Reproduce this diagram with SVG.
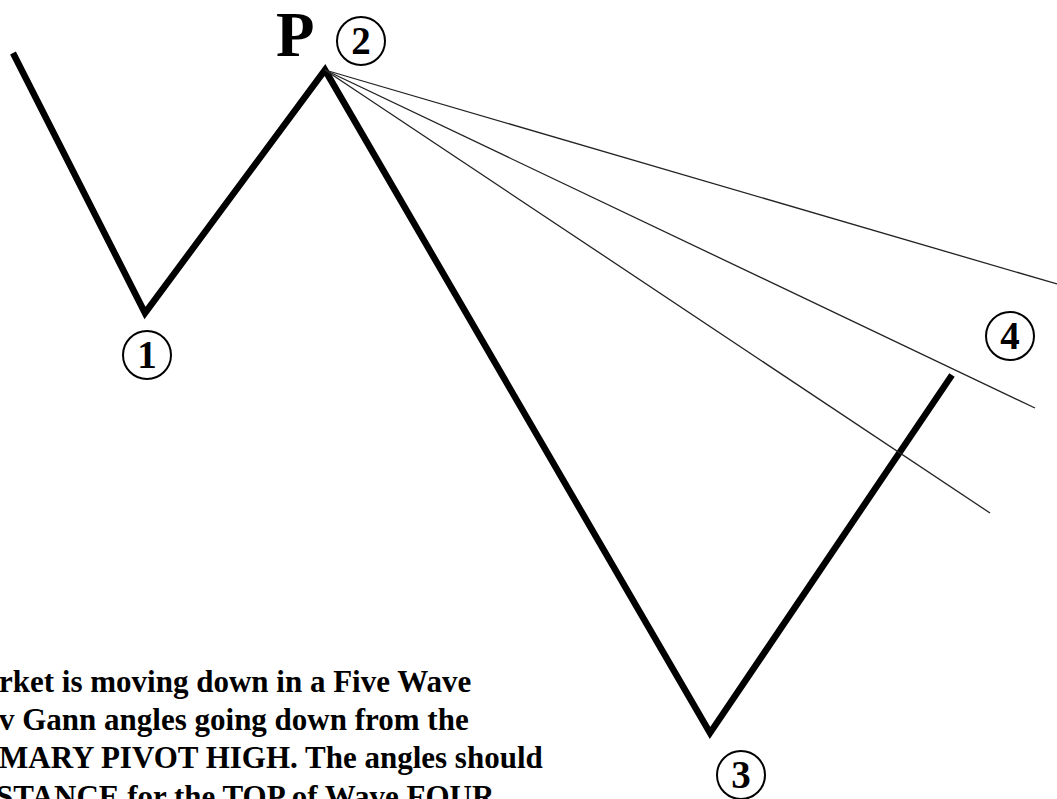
<svg xmlns="http://www.w3.org/2000/svg" width="1057" height="799" viewBox="0 0 1057 799">
<style>
.wave{fill:none;stroke:#000;stroke-width:6.5;stroke-linejoin:miter;stroke-linecap:butt}
.gann{fill:none;stroke:#222;stroke-width:1.3}
.ring{fill:#fff;stroke:#000;stroke-width:2}
.num{font-family:"Liberation Serif","Times New Roman",serif;font-weight:bold;font-size:39px;text-anchor:middle}
.big{font-family:"Liberation Serif","Times New Roman",serif;font-weight:bold;font-size:63px}
.txt{font-family:"Liberation Serif","Times New Roman",serif;font-weight:bold;font-size:31px}
</style>
<rect width="1057" height="799" fill="#fff"/>
<g id="connectors">
<polyline class="wave" points="13,53 145,313 325,70 710,733 952,375"/>
<line class="gann" x1="325" y1="70" x2="1057" y2="284"/>
<line class="gann" x1="325" y1="70" x2="1035" y2="408"/>
<line class="gann" x1="325" y1="70" x2="990" y2="513"/>
</g>
<g id="label-P"><text class="big" x="276" y="56">P</text></g>
<g id="node-2"><circle class="ring" cx="361" cy="41" r="24"/><text class="num" x="361" y="54">2</text></g>
<g id="node-1"><circle class="ring" cx="147" cy="355" r="24"/><text class="num" x="147" y="368">1</text></g>
<g id="node-4"><circle class="ring" cx="1010" cy="336" r="24"/><text class="num" x="1010" y="349">4</text></g>
<g id="node-3"><circle class="ring" cx="741" cy="775" r="24"/><text class="num" x="741" y="788">3</text></g>
<g id="caption">
<text class="txt" x="-1" y="692">rket is moving down in a Five Wave</text>
<text class="txt" x="-1" y="730">v Gann angles going down from the</text>
<text class="txt" x="-1" y="768">MARY PIVOT HIGH. The angles should</text>
<text class="txt" x="-4" y="807">STANCE for the TOP of Wave FOUR</text>
</g>
</svg>
